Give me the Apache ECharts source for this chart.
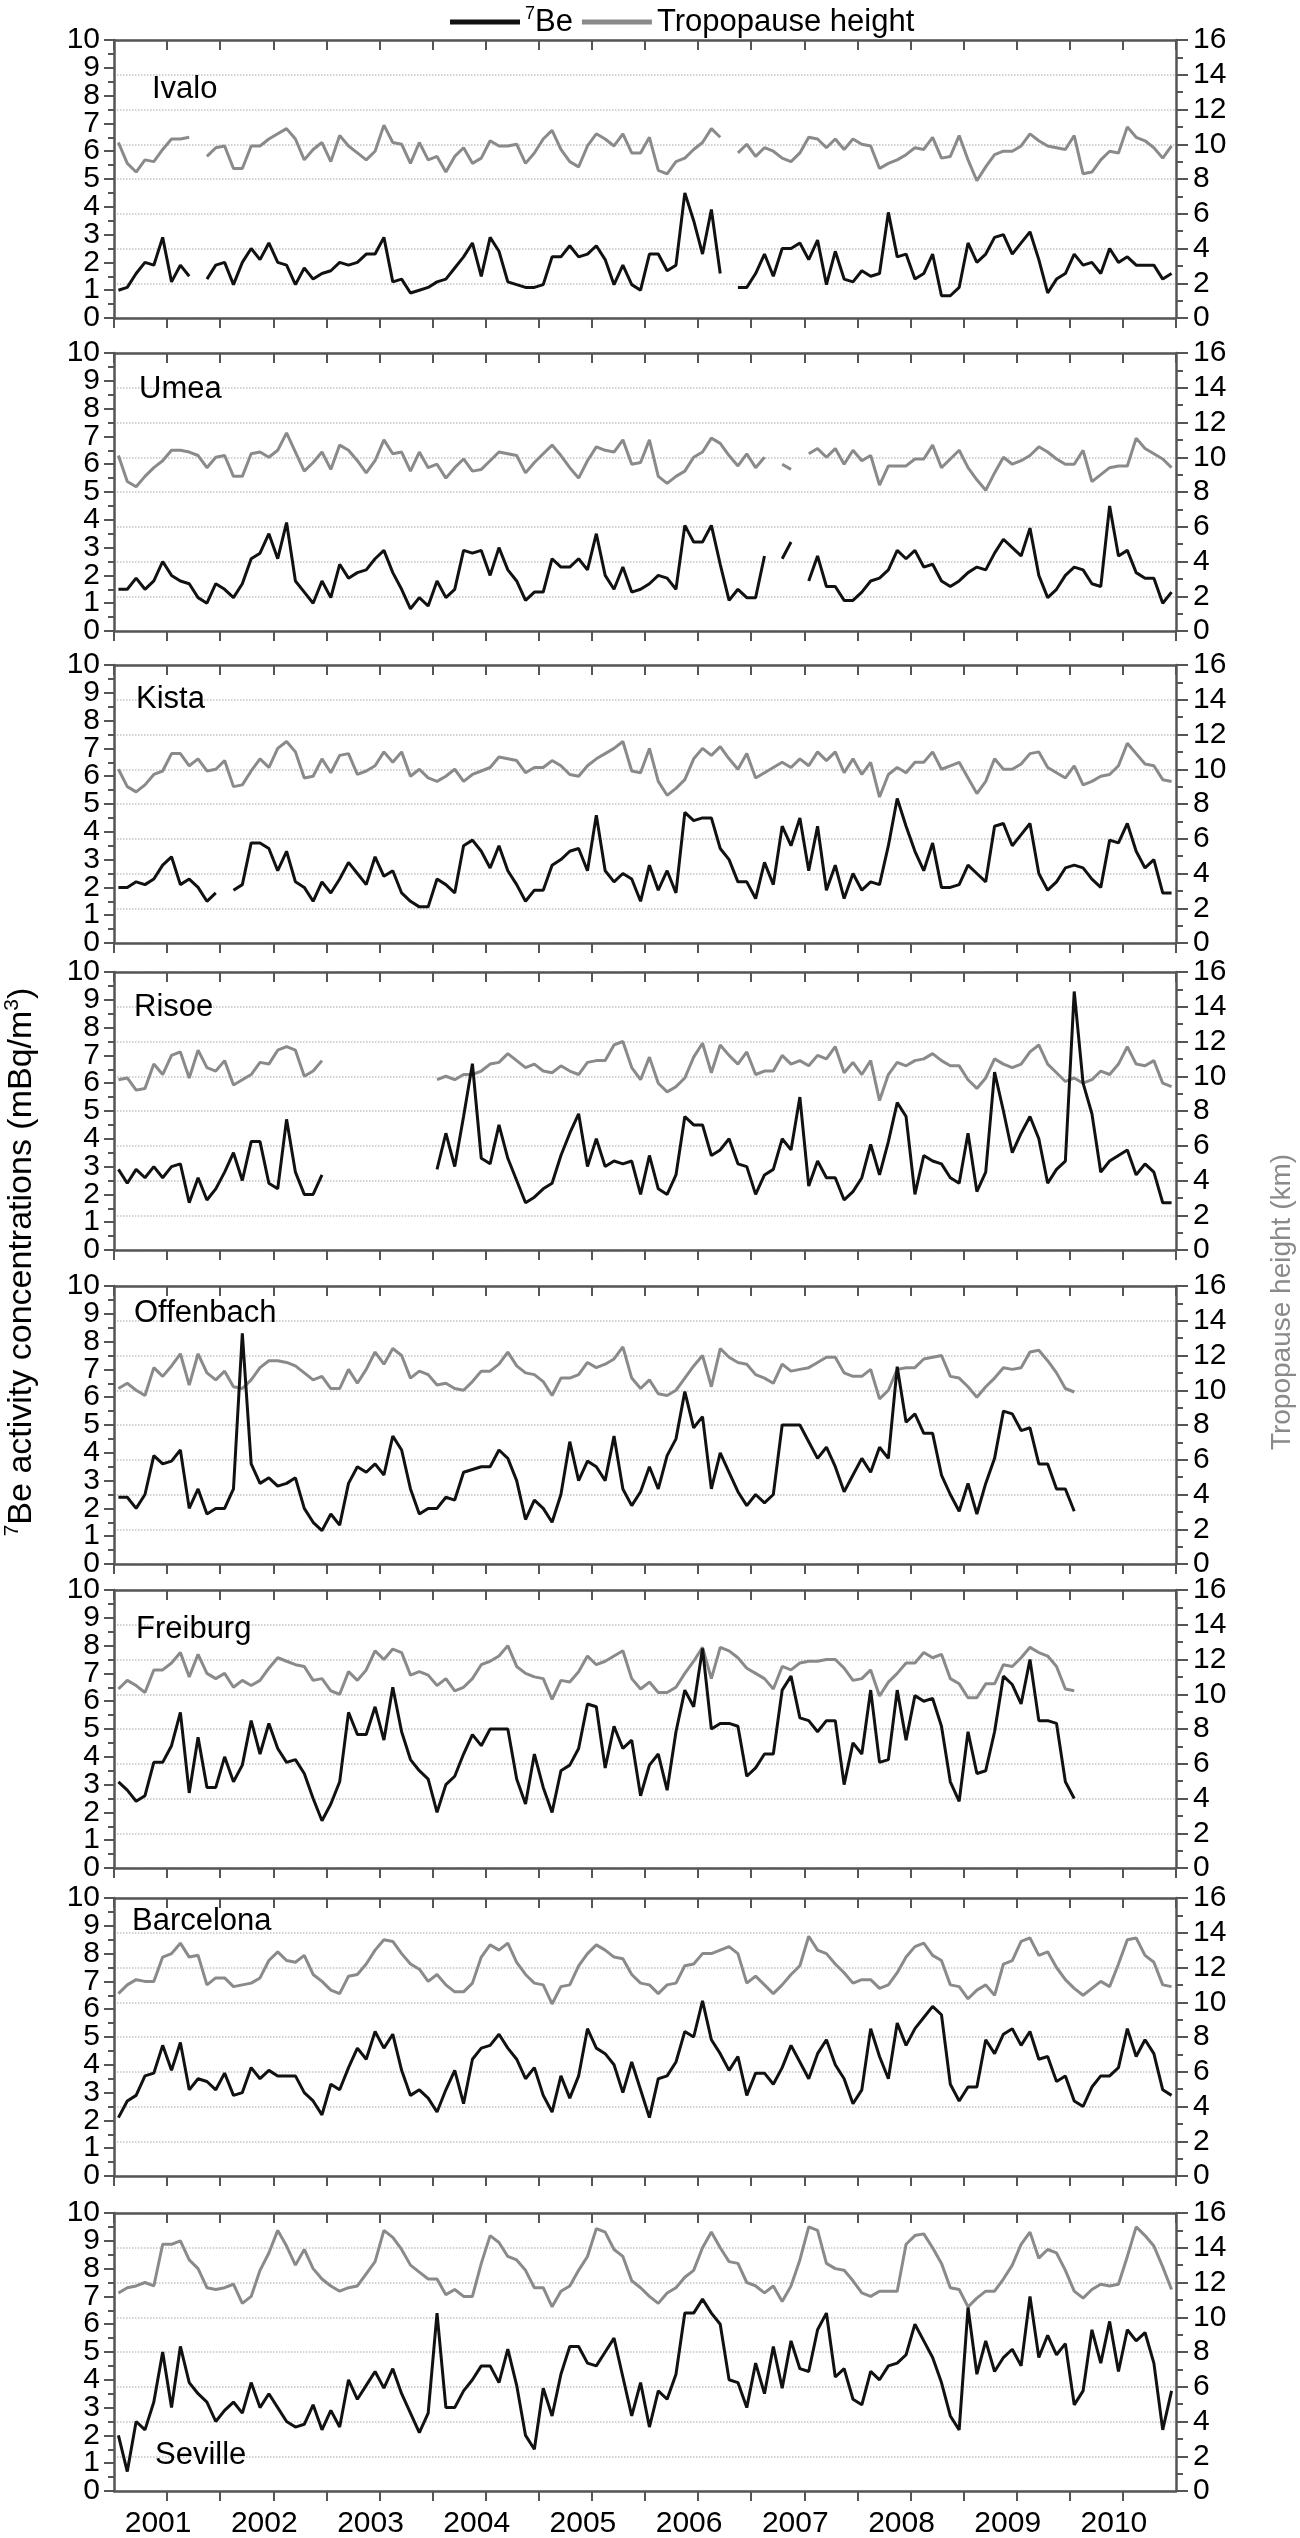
<!DOCTYPE html>
<html><head><meta charset="utf-8">
<script src="https://cdn.jsdelivr.net/npm/echarts/dist/echarts.min.js"></script>
<style>html,body{margin:0;padding:0;background:#fff}#c{width:1300px;height:2538px}</style>
</head><body><div id="c"></div><script>
const years = ['2001','2002','2003','2004','2005','2006','2007','2008','2009','2010'];
const stations = ['Ivalo','Umea','Kista','Risoe','Offenbach','Freiburg','Barcelona','Seville'];
const N = null;

const beIvalo = [
1.0,1.1,1.6,2.0,1.9,2.9,1.3,1.9,1.5,N,1.4,1.9,
2.0,1.2,2.0,2.5,2.1,2.7,2.0,1.9,1.2,1.8,1.4,1.6,
1.7,2.0,1.9,2.0,2.3,2.3,2.9,1.3,1.4,0.9,1.0,1.1,
1.3,1.4,1.8,2.2,2.7,1.5,2.9,2.4,1.3,1.2,1.1,1.1,
1.2,2.2,2.2,2.6,2.2,2.3,2.6,2.1,1.2,1.9,1.2,1.0,
2.3,2.3,1.7,1.9,4.5,3.5,2.3,3.9,1.6,N,1.1,1.1,
1.6,2.3,1.5,2.5,2.5,2.7,2.1,2.8,1.2,2.4,1.4,1.3,
1.7,1.5,1.6,3.8,2.2,2.3,1.4,1.6,2.3,0.8,0.8,1.1,
2.7,2.0,2.3,2.9,3.0,2.3,2.7,3.1,2.1,0.9,1.4,1.6,
2.3,1.9,2.0,1.6,2.5,2.0,2.2,1.9,1.9,1.9,1.4,1.6];
const tpIvalo = [
10.1,8.9,8.4,9.1,9.0,9.7,10.3,10.3,10.4,N,9.3,9.8,
9.9,8.6,8.6,9.9,9.9,10.3,10.6,10.9,10.3,9.1,9.7,10.1,
9.0,10.5,9.9,9.5,9.1,9.6,11.1,10.1,10.0,8.9,10.1,9.1,
9.3,8.4,9.3,9.8,8.9,9.2,10.2,9.9,9.9,10.0,8.9,9.5,
10.3,10.8,9.7,9.0,8.7,9.9,10.6,10.3,9.9,10.6,9.5,9.5,
10.4,8.5,8.3,9.0,9.2,9.7,10.1,10.9,10.4,N,9.5,10.0,
9.3,9.8,9.6,9.2,9.0,9.5,10.4,10.3,9.8,10.3,9.7,10.3,
10.0,9.9,8.6,8.9,9.1,9.4,9.8,9.7,10.4,9.2,9.3,10.5,
9.1,7.9,8.7,9.4,9.6,9.6,9.9,10.6,10.2,9.9,9.8,9.7,
10.5,8.3,8.4,9.1,9.6,9.5,11.0,10.4,10.2,9.8,9.2,9.9];

const beUmea = [
1.5,1.5,1.9,1.5,1.8,2.5,2.0,1.8,1.7,1.2,1.0,1.7,
1.5,1.2,1.7,2.6,2.8,3.5,2.6,3.9,1.8,1.4,1.0,1.8,
1.2,2.4,1.9,2.1,2.2,2.6,2.9,2.1,1.5,0.8,1.2,0.9,
1.8,1.2,1.5,2.9,2.8,2.9,2.0,3.0,2.2,1.8,1.1,1.4,
1.4,2.6,2.3,2.3,2.6,2.2,3.5,2.0,1.5,2.3,1.4,1.5,
1.7,2.0,1.9,1.5,3.8,3.2,3.2,3.8,2.4,1.1,1.5,1.2,
1.2,2.7,N,2.6,3.2,N,1.8,2.7,1.6,1.6,1.1,1.1,
1.4,1.8,1.9,2.2,2.9,2.6,2.9,2.3,2.4,1.8,1.6,1.8,
2.1,2.3,2.2,2.8,3.3,3.0,2.7,3.7,2.0,1.2,1.5,2.0,
2.3,2.2,1.7,1.6,4.5,2.7,2.9,2.1,1.9,1.9,1.0,1.4];
const tpUmea = [
10.1,8.6,8.3,8.9,9.4,9.8,10.4,10.4,10.3,10.1,9.4,10.0,
10.1,8.9,8.9,10.2,10.3,10.0,10.4,11.4,10.3,9.2,9.7,10.3,
9.3,10.7,10.4,9.8,9.1,9.8,11.0,10.2,10.3,9.2,10.3,9.4,
9.6,8.8,9.4,9.9,9.2,9.3,9.8,10.3,10.2,10.1,9.1,9.7,
10.2,10.7,10.1,9.4,8.8,9.8,10.6,10.4,10.3,11.0,9.6,9.7,
11.0,8.9,8.5,8.9,9.2,10.0,10.3,11.1,10.8,10.1,9.5,10.2,
9.4,10.0,N,9.6,9.3,N,10.2,10.5,10.0,10.5,9.6,10.4,
9.8,10.1,8.4,9.5,9.5,9.5,9.9,9.9,10.7,9.4,9.9,10.4,
9.4,8.7,8.1,9.1,10.0,9.6,9.8,10.1,10.6,10.3,9.9,9.6,
9.6,10.4,8.6,9.0,9.4,9.5,9.5,11.1,10.5,10.2,9.9,9.4];

const beKista = [
2.0,2.0,2.2,2.1,2.3,2.8,3.1,2.1,2.3,2.0,1.5,1.8,
N,1.9,2.1,3.6,3.6,3.4,2.6,3.3,2.2,2.0,1.5,2.2,
1.8,2.3,2.9,2.5,2.1,3.1,2.4,2.6,1.8,1.5,1.3,1.3,
2.3,2.1,1.8,3.5,3.7,3.3,2.7,3.5,2.6,2.1,1.5,1.9,
1.9,2.8,3.0,3.3,3.4,2.6,4.6,2.6,2.2,2.5,2.3,1.5,
2.8,1.9,2.6,1.8,4.7,4.4,4.5,4.5,3.4,3.0,2.2,2.2,
1.6,2.9,2.1,4.2,3.5,4.5,2.6,4.2,1.9,2.8,1.6,2.5,
1.9,2.2,2.1,3.5,5.2,4.2,3.3,2.6,3.6,2.0,2.0,2.1,
2.8,2.5,2.2,4.2,4.3,3.5,3.9,4.3,2.5,1.9,2.2,2.7,
2.8,2.7,2.3,2.0,3.7,3.6,4.3,3.3,2.7,3.0,1.8,1.8];
const tpKista = [
10.0,9.0,8.7,9.1,9.7,9.9,10.9,10.9,10.2,10.6,9.9,10.0,
10.5,9.0,9.1,9.9,10.6,10.1,11.2,11.6,11.0,9.5,9.6,10.6,
9.8,10.8,10.9,9.7,9.9,10.2,11.0,10.4,11.0,9.6,10.0,9.5,
9.3,9.6,10.0,9.3,9.7,9.9,10.1,10.7,10.6,10.5,9.8,10.1,
10.1,10.5,10.2,9.7,9.6,10.2,10.6,10.9,11.2,11.6,9.9,9.8,
11.2,9.3,8.5,8.9,9.4,10.6,11.2,10.8,11.3,10.6,10.0,10.9,
9.5,9.8,10.1,10.4,10.1,10.6,10.2,11.0,10.5,11.0,9.8,10.6,
9.7,10.4,8.4,9.7,10.1,9.8,10.4,10.4,11.0,10.0,10.2,10.4,
9.5,8.6,9.3,10.6,10.0,10.0,10.3,10.9,11.0,10.1,9.8,9.5,
10.2,9.1,9.3,9.6,9.7,10.2,11.5,10.9,10.3,10.2,9.4,9.3];

const beRisoe = [
2.9,2.4,2.9,2.6,3.0,2.6,3.0,3.1,1.7,2.6,1.8,2.2,
2.8,3.5,2.5,3.9,3.9,2.4,2.2,4.7,2.8,2.0,2.0,2.7,
N,N,N,N,N,N,N,N,N,N,N,N,
2.9,4.2,3.0,4.8,6.7,3.3,3.1,4.5,3.3,2.5,1.7,1.9,
2.2,2.4,3.4,4.2,4.9,3.0,4.0,3.0,3.2,3.1,3.2,2.0,
3.4,2.2,2.0,2.7,4.8,4.5,4.5,3.4,3.6,4.0,3.1,3.0,
2.0,2.7,2.9,4.0,3.6,5.5,2.3,3.2,2.6,2.6,1.8,2.1,
2.6,3.8,2.7,3.9,5.3,4.8,2.0,3.4,3.2,3.1,2.6,2.4,
4.2,2.1,2.8,6.4,5.0,3.5,4.2,4.8,4.0,2.4,2.9,3.2,
9.3,6.0,4.9,2.8,3.2,3.4,3.6,2.7,3.1,2.8,1.7,1.7];
const tpRisoe = [
9.8,9.9,9.2,9.3,10.7,10.1,11.2,11.4,9.9,11.5,10.5,10.3,
10.9,9.5,9.8,10.1,10.8,10.7,11.5,11.7,11.5,10.0,10.3,10.9,
N,N,N,N,N,N,N,N,N,N,N,N,
9.8,10.0,9.8,10.1,10.1,10.3,10.7,10.8,11.3,10.9,10.5,10.7,
10.3,10.2,10.6,10.3,10.1,10.8,10.9,10.9,11.8,12.0,10.5,9.8,
11.1,9.6,9.1,9.4,9.9,11.1,11.9,10.2,11.8,11.2,10.7,11.4,
10.1,10.3,10.3,11.2,10.7,10.9,10.6,11.2,11.0,11.7,10.2,10.8,
10.1,10.9,8.6,10.1,10.8,10.6,10.9,11.0,11.3,10.9,10.6,10.6,
9.8,9.3,9.9,11.0,10.7,10.5,10.7,11.4,11.8,10.7,10.2,9.7,
9.9,9.6,9.8,10.3,10.1,10.7,11.7,10.7,10.6,10.9,9.6,9.4];

const beOffenbach = [
2.4,2.4,2.0,2.5,3.9,3.6,3.7,4.1,2.0,2.7,1.8,2.0,
2.0,2.7,8.3,3.6,2.9,3.1,2.8,2.9,3.1,2.0,1.5,1.2,
1.8,1.4,2.9,3.5,3.3,3.6,3.2,4.6,4.1,2.7,1.8,2.0,
2.0,2.4,2.3,3.3,3.4,3.5,3.5,4.1,3.8,3.0,1.6,2.3,
2.0,1.5,2.5,4.4,3.0,3.7,3.5,3.0,4.6,2.7,2.1,2.6,
3.5,2.7,3.9,4.5,6.2,4.9,5.3,2.7,4.0,3.3,2.6,2.1,
2.5,2.2,2.5,5.0,5.0,5.0,4.4,3.8,4.2,3.5,2.6,3.2,
3.8,3.3,4.2,3.8,7.1,5.1,5.4,4.7,4.7,3.2,2.5,1.9,
2.9,1.8,2.9,3.8,5.5,5.4,4.8,4.9,3.6,3.6,2.7,2.7,
1.9,N,N,N,N,N,N,N,N,N,N,N];
const tpOffenbach = [
10.1,10.4,10.0,9.7,11.3,10.8,11.4,12.1,10.3,12.1,11.0,10.6,
11.1,10.2,10.1,10.6,11.3,11.7,11.7,11.6,11.4,11.0,10.6,10.8,
10.1,10.1,11.2,10.4,11.2,12.2,11.5,12.4,12.0,10.7,11.1,10.9,
10.3,10.4,10.1,10.0,10.5,11.1,11.1,11.5,12.2,11.4,11.0,10.9,
10.5,9.7,10.7,10.7,10.9,11.6,11.3,11.5,11.8,12.5,10.7,10.1,
10.6,9.8,9.7,10.0,10.7,11.4,12.0,10.2,12.4,11.9,11.6,11.5,
10.9,10.7,10.4,11.5,11.1,11.2,11.3,11.6,11.9,11.9,11.0,10.8,
10.8,11.2,9.5,10.0,11.2,11.3,11.3,11.8,11.9,12.0,10.8,10.7,
10.2,9.6,10.2,10.7,11.3,11.2,11.3,12.2,12.3,11.7,11.0,10.1,
9.9,N,N,N,N,N,N,N,N,N,N,N];

const beFreiburg = [
3.1,2.8,2.4,2.6,3.8,3.8,4.4,5.6,2.7,4.7,2.9,2.9,
4.0,3.1,3.7,5.3,4.1,5.2,4.3,3.8,3.9,3.4,2.5,1.7,
2.3,3.1,5.6,4.8,4.8,5.8,4.6,6.5,4.9,3.9,3.5,3.2,
2.0,3.0,3.3,4.1,4.8,4.4,5.0,5.0,5.0,3.2,2.3,4.1,
2.9,2.0,3.5,3.7,4.3,5.9,5.8,3.6,5.1,4.3,4.6,2.6,
3.7,4.1,2.8,4.9,6.4,5.8,7.9,5.0,5.2,5.2,5.1,3.3,
3.6,4.1,4.1,6.4,6.9,5.4,5.3,4.9,5.3,5.3,3.0,4.5,
4.1,6.4,3.8,3.9,6.4,4.6,6.2,6.0,6.1,5.1,3.1,2.4,
4.9,3.4,3.5,4.9,6.9,6.6,5.9,7.5,5.3,5.3,5.2,3.1,
2.5,N,N,N,N,N,N,N,N,N,N,N];
const tpFreiburg = [
10.3,10.8,10.5,10.1,11.4,11.4,11.8,12.4,11.0,12.3,11.2,10.9,
11.2,10.4,10.8,10.5,10.8,11.5,12.1,11.9,11.7,11.6,10.8,10.9,
10.2,10.0,11.3,10.8,11.4,12.5,12.0,12.6,12.4,11.1,11.3,11.1,
10.5,10.9,10.2,10.4,10.9,11.7,11.9,12.2,12.8,11.6,11.2,11.0,
10.9,9.7,10.8,10.7,11.3,12.2,11.7,11.9,12.2,12.5,10.9,10.3,
10.7,10.1,10.1,10.4,11.2,11.9,12.7,10.9,12.7,12.5,12.1,11.5,
11.2,10.9,10.3,11.6,11.4,11.8,11.9,11.9,12.0,12.0,11.5,10.8,
10.9,11.4,9.9,10.7,11.2,11.8,11.8,12.4,12.1,12.3,10.9,10.6,
9.8,9.8,10.6,10.6,11.7,11.6,12.1,12.7,12.4,12.2,11.6,10.3,
10.2,N,N,N,N,N,N,N,N,N,N,N];

const beBarcelona = [
2.1,2.7,2.9,3.6,3.7,4.7,3.8,4.8,3.1,3.5,3.4,3.1,
3.7,2.9,3.0,3.9,3.5,3.8,3.6,3.6,3.6,3.0,2.7,2.2,
3.3,3.1,3.9,4.6,4.2,5.2,4.6,5.1,3.8,2.9,3.1,2.8,
2.3,3.1,3.8,2.6,4.2,4.6,4.7,5.1,4.6,4.2,3.5,3.9,
2.9,2.3,3.6,2.8,3.6,5.3,4.6,4.4,4.0,3.0,4.1,3.1,
2.1,3.5,3.6,4.1,5.2,5.0,6.3,4.9,4.4,3.8,4.3,2.9,
3.7,3.7,3.3,3.9,4.7,4.1,3.5,4.4,4.9,4.0,3.5,2.6,
3.1,5.3,4.3,3.5,5.5,4.7,5.3,5.7,6.1,5.8,3.3,2.7,
3.2,3.2,4.9,4.4,5.1,5.3,4.7,5.2,4.2,4.3,3.4,3.6,
2.7,2.5,3.2,3.6,3.6,3.9,5.3,4.3,4.9,4.4,3.1,2.9];
const tpBarcelona = [
10.5,11.0,11.3,11.2,11.2,12.6,12.8,13.4,12.6,12.7,11.0,11.4,
11.4,10.9,11.0,11.1,11.4,12.4,12.9,12.4,12.3,12.7,11.6,11.2,
10.7,10.5,11.5,11.6,12.2,13.0,13.6,13.5,12.8,12.2,11.9,11.2,
11.6,11.0,10.6,10.6,11.1,12.6,13.3,13.0,13.4,12.3,11.6,11.1,
11.0,9.9,10.9,11.0,12.1,12.8,13.3,13.0,12.6,12.5,11.6,11.1,
11.0,10.5,11.0,11.1,12.1,12.2,12.8,12.8,13.0,13.2,12.8,11.1,
11.5,11.0,10.5,11.0,11.6,12.1,13.8,13.0,12.8,12.2,11.7,11.1,
11.3,11.3,10.8,11.0,11.7,12.6,13.2,13.4,12.7,12.4,11.0,10.9,
10.2,10.7,11.0,10.4,12.2,12.4,13.5,13.7,12.7,12.9,12.0,11.3,
10.8,10.4,10.8,11.2,10.9,12.2,13.6,13.7,12.7,12.3,11.0,10.9];

const beSeville = [
2.0,0.7,2.5,2.2,3.2,5.0,3.0,5.2,3.9,3.5,3.2,2.5,
2.9,3.2,2.8,3.9,3.0,3.5,3.0,2.5,2.3,2.4,3.1,2.2,
2.9,2.3,4.0,3.3,3.8,4.3,3.7,4.4,3.5,2.8,2.1,2.8,
6.4,3.0,3.0,3.6,4.0,4.5,4.5,3.9,5.1,3.8,2.0,1.5,
3.7,2.7,4.2,5.2,5.2,4.6,4.5,5.0,5.5,4.1,2.7,3.9,
2.3,3.6,3.3,4.2,6.4,6.4,6.9,6.4,6.0,4.0,3.9,3.0,
4.6,3.5,5.2,3.7,5.4,4.4,4.3,5.8,6.4,4.1,4.4,3.3,
3.1,4.3,4.0,4.5,4.6,4.9,6.0,5.4,4.8,3.9,2.7,2.2,
6.6,4.2,5.4,4.3,4.8,5.1,4.5,7.0,4.8,5.6,4.9,5.3,
3.1,3.6,5.8,4.6,6.1,4.3,5.8,5.4,5.7,4.6,2.2,3.6];
const tpSeville = [
11.4,11.7,11.8,12.0,11.8,14.2,14.2,14.4,13.3,12.8,11.7,11.6,
11.7,11.9,10.8,11.2,12.7,13.7,15.0,14.1,13.0,13.9,12.8,12.2,
11.8,11.5,11.7,11.8,12.5,13.2,15.0,14.6,13.9,13.0,12.6,12.2,
12.2,11.3,11.6,11.2,11.2,13.1,14.7,14.3,13.5,13.3,12.7,11.7,
11.7,10.6,11.5,11.8,12.7,13.5,15.1,14.9,13.9,13.5,12.1,11.7,
11.2,10.8,11.4,11.7,12.3,12.7,14.0,14.9,14.0,13.2,13.1,12.0,
11.8,11.4,11.8,10.9,11.8,13.3,15.2,15.0,13.1,12.8,12.7,12.1,
11.4,11.2,11.5,11.5,11.5,14.2,14.7,14.8,14.0,13.1,11.7,11.6,
10.6,11.1,11.5,11.5,12.2,13.0,14.2,14.9,13.4,13.9,13.7,12.7,
11.5,11.1,11.6,11.9,11.8,11.9,13.5,15.2,14.7,14.1,12.9,11.6];

const beData = [beIvalo, beUmea, beKista, beRisoe, beOffenbach, beFreiburg, beBarcelona, beSeville];
const tpData = [tpIvalo, tpUmea, tpKista, tpRisoe, tpOffenbach, tpFreiburg, tpBarcelona, tpSeville];

// layout
const panelTops = [40, 353, 665, 972, 1286, 1590, 1898, 2213];
const panelH = 278;
const gridLeft = 114, gridRight = 124;
// station label: [left, offset from panel top (>=0) or from panel bottom (<0)]
const labelPos = [[152, 34], [139, 21], [136, 19], [134, 20], [134, 12], [136, 24], [132, 8], [155, -51]];
const FONT = 'Liberation Sans, Arial, Helvetica, sans-serif';
const AX = '#555';
const TICKFONT = 30;

const pairs = arr => arr.map((v, i) => [i, v == null ? '-' : v]);
const labelStyle = (margin, showEnds) => ({
  fontSize: TICKFONT, color: '#000', fontFamily: FONT, margin,
  showMinLabel: showEnds, showMaxLabel: showEnds, hideOverlap: false
});

const grid = [], xAxis = [], yAxis = [], series = [], title = [];
stations.forEach((st, k) => {
  grid.push({ left: gridLeft, right: gridRight, top: panelTops[k], height: panelH, containLabel: false, outerBoundsMode: 'none' });
  xAxis.push({
    type: 'value', gridIndex: k, position: 'bottom', min: -0.5, max: 119.5, interval: 6,
    axisLine: { show: true, onZero: false, lineStyle: { color: AX, width: 2.5 } },
    axisTick: { show: true, inside: false, length: 10, lineStyle: { color: AX, width: 2 } },
    axisLabel: {
      show: k === stations.length - 1, fontSize: TICKFONT, color: '#000', fontFamily: FONT, margin: 18,
      padding: [0, 18, 0, 0], showMinLabel: false, showMaxLabel: false, hideOverlap: false,
      formatter: v => { const m = Math.round(v + 0.5); return m % 12 === 6 ? years[(m - 6) / 12] : ''; }
    },
    splitLine: { show: false }
  });
  xAxis.push({
    type: 'value', gridIndex: k, position: 'top', min: -0.5, max: 119.5, interval: 6,
    axisLine: { show: true, onZero: false, lineStyle: { color: AX, width: 2.5 } },
    axisTick: { show: true, inside: true, length: 10, lineStyle: { color: AX, width: 2 } },
    axisLabel: { show: false }, splitLine: { show: false }
  });
  // left axis: 1..9 labels
  yAxis.push({
    type: 'value', gridIndex: k, position: 'left', min: 0, max: 10, interval: 1,
    axisLine: { show: true, onZero: false, lineStyle: { color: AX, width: 2.5 } },
    axisTick: { show: true, inside: false, length: 10, lineStyle: { color: AX, width: 2 } },
    minorTick: { show: true, splitNumber: 2, length: 6, lineStyle: { color: AX, width: 2 } },
    axisLabel: labelStyle(14, false),
    splitLine: { show: false }
  });
  // right axis
  yAxis.push({
    type: 'value', gridIndex: k, position: 'right', min: 0, max: 16, interval: 2,
    axisLine: { show: true, onZero: false, lineStyle: { color: AX, width: 2.5 } },
    axisTick: { show: true, inside: false, length: 12, lineStyle: { color: AX, width: 2 } },
    minorTick: { show: true, splitNumber: 2, length: 7, lineStyle: { color: AX, width: 2 } },
    axisLabel: labelStyle(17, true),
    splitLine: { show: true, lineStyle: { color: '#c4c4c4', width: 1.5, type: 'dotted' } }
  });
  // left axis end labels (0 and 10)
  yAxis.push({
    type: 'value', gridIndex: k, position: 'left', offset: 0, min: 0, max: 10, interval: 10,
    axisLine: { show: false }, axisTick: { show: false }, minorTick: { show: false },
    axisLabel: labelStyle(14, true),
    splitLine: { show: false }
  });
  series.push({
    name: 'Tropopause height', type: 'line', xAxisIndex: 2 * k, yAxisIndex: 3 * k + 1,
    data: pairs(tpData[k]), symbol: 'none', connectNulls: false, z: 2,
    lineStyle: { color: '#8a8a8a', width: 3 }, itemStyle: { color: '#8a8a8a' }
  });
  series.push({
    name: '7Be', type: 'line', xAxisIndex: 2 * k, yAxisIndex: 3 * k,
    data: pairs(beData[k]), symbol: 'none', connectNulls: false, z: 3,
    lineStyle: { color: '#111', width: 3 }, itemStyle: { color: '#111' }
  });
  const lp = labelPos[k];
  title.push({
    text: st, left: lp[0], top: lp[1] >= 0 ? panelTops[k] + lp[1] : panelTops[k] + panelH + lp[1],
    padding: 0, textStyle: { fontSize: 31, fontWeight: 'normal', color: '#000', fontFamily: FONT }
  });
});

const chart = echarts.init(document.getElementById('c'), null, { renderer: 'canvas' });
chart.setOption({
  animation: false,
  backgroundColor: '#fff',
  title,
  grid, xAxis, yAxis, series,
  legend: {
    left: 445, top: 0, icon: 'rect', itemWidth: 70, itemHeight: 5, itemGap: 9,
    data: ['7Be', 'Tropopause height'],
    formatter: name => name === '7Be' ? '{sup|7}{n|Be}' : '{n|' + name + '}',
    textStyle: {
      color: '#000', fontFamily: FONT, fontSize: 31,
      rich: {
        sup: { fontSize: 18, verticalAlign: 'top', lineHeight: 34, fontFamily: FONT, color: '#000' },
        n: { fontSize: 31, lineHeight: 34, fontFamily: FONT, color: '#000' }
      }
    }
  },
  graphic: [
    {
      type: 'text', x: 22, y: 1262, rotation: Math.PI / 2,
      style: {
        text: '{sup|7}{n|Be activity concentrations (mBq/m}{sup|3}{n|)}',
        align: 'center', verticalAlign: 'middle', fill: '#000',
        rich: {
          sup: { fontSize: 21, verticalAlign: 'top', lineHeight: 40, fontFamily: FONT, fill: '#000' },
          n: { fontSize: 34, lineHeight: 40, fontFamily: FONT, fill: '#000' }
        }
      }
    },
    {
      type: 'text', x: 1282, y: 1302, rotation: Math.PI / 2,
      style: {
        text: 'Tropopause height (km)', align: 'center', verticalAlign: 'middle',
        fill: '#8a8a8a', fontSize: 28, fontFamily: FONT
      }
    }
  ]
});
</script></body></html>
